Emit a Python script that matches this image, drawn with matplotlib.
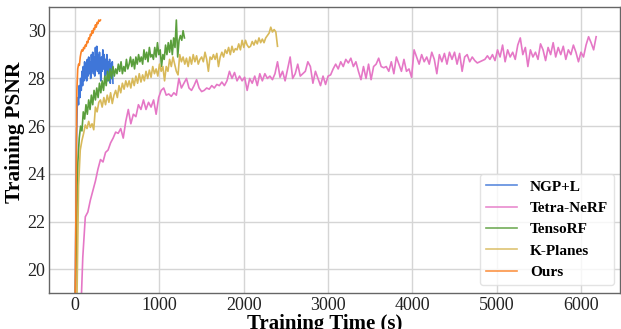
import numpy as np
import matplotlib
matplotlib.use("Agg")
import matplotlib.pyplot as plt

# ---------------- data ----------------
labels = ["NGP+L", "Tetra-NeRF", "TensoRF", "K-Planes", "Ours"]
colors = ["#3f76d8", "#e577c6", "#5a9e3c", "#d8b95a", "#fb8226"]

ours_start, ours_step = 0, 10
ours_psnr = [18.8, 23.0, 27.5, 28.4, 28.6, 28.55, 28.9, 29.1, 29.2, 29.15,
             29.3, 29.25, 29.4, 29.35, 29.55, 29.5, 29.7, 29.65, 29.85, 29.8,
             30.0, 29.9, 30.1, 30.05, 30.25, 30.15, 30.35, 30.3, 30.45, 30.4, 30.45]

ngp_start, ngp_step = 0, 8
ngp_psnr = [18.5, 22.0, 25.5, 26.8, 27.2, 26.9, 27.7, 27.2, 28.0, 27.5,
            28.3, 27.7, 28.5, 27.9, 28.7, 28.0, 28.6, 27.9, 28.8, 28.1,
            28.9, 28.2, 28.7, 28.0, 29.0, 28.3, 29.1, 28.2, 28.9, 28.1,
            29.3, 28.4, 29.35, 28.3, 29.0, 28.2, 29.1, 28.5, 27.9, 28.9,
            28.3, 29.2, 28.4, 29.0, 28.1, 28.8, 28.2, 29.0, 27.9, 28.7,
            28.2, 28.8, 27.8, 28.6, 28.0, 28.7, 27.8]

tenso_start, tenso_step = 0, 16
tenso_psnr = [18.5, 21.5, 24.5, 25.5, 26.0, 25.8, 26.6, 26.3, 26.9, 26.5,
              27.1, 26.7, 27.3, 26.9, 27.5, 27.1, 27.6, 27.2, 27.8, 27.4,
              27.9, 27.5, 28.1, 27.7, 28.3, 27.9, 28.4, 28.0, 28.5, 28.1,
              28.4, 28.2, 28.6, 28.3, 28.7, 28.2, 28.5, 28.3, 28.8, 28.4,
              28.6, 28.9, 28.5, 28.8, 28.4, 28.9, 28.6, 29.0, 28.7, 28.9,
              28.6, 29.2, 28.8, 29.1, 28.7, 29.3, 28.9, 29.0, 28.8, 29.3,
              28.9, 29.5, 29.0, 29.2, 28.5, 29.0, 28.8, 29.4, 29.0, 29.5,
              29.1, 29.6, 29.0, 29.7, 29.3, 30.45, 28.9, 29.6, 29.8, 29.6,
              30.0, 29.7]

kp_start, kp_step = 20, 20
kp_psnr = [18.5, 23.5, 25.0, 25.4, 25.7, 26.05, 25.9, 26.2, 25.95, 26.1,
           25.85, 26.8, 26.6, 27.0, 27.1, 26.8, 27.2, 26.9, 27.3, 27.0,
           27.4, 26.95, 27.3, 27.5, 27.2, 27.7, 27.4, 27.8, 27.55, 27.9,
           27.65, 27.9, 27.6, 28.0, 27.7, 28.1, 27.8, 28.2, 27.85, 28.15,
           27.9, 28.3, 28.0, 28.35, 28.05, 28.5, 28.2, 28.4, 28.1, 28.6,
           28.3, 28.5, 27.9, 28.5, 28.3, 28.8, 28.5, 28.9, 28.6, 28.3,
           28.15, 29.0, 28.7, 28.9, 28.6, 28.85, 28.5, 28.9, 28.6, 29.0,
           28.7, 28.95, 28.6, 28.8, 28.9, 28.7, 29.1, 28.8, 28.3, 28.9,
           28.8, 29.0, 28.8, 29.05, 28.5, 28.9, 29.1, 28.9, 29.2, 29.05,
           29.3, 29.0, 29.35, 29.1, 29.25, 29.2, 29.45, 29.2, 29.6, 29.3,
           29.6, 29.4, 29.3, 29.35, 29.55, 29.4, 29.6, 29.45, 29.7, 29.5,
           29.65, 29.5, 29.7, 29.8, 29.9, 30.15, 29.95, 30.05, 29.95, 29.35]

tetra_start, tetra_step = 60, 30
tetra_psnr = [17.5, 20.5, 22.2, 22.4, 22.9, 23.3, 23.7, 24.2, 24.6, 24.5,
              24.9, 25.0, 25.3, 25.5, 25.75, 25.7, 25.9, 25.5, 26.2, 26.7,
              26.1, 26.5, 26.4, 26.9, 26.7, 27.1, 26.7, 27.0, 26.8, 27.1,
              26.5, 27.2, 27.5, 27.6, 27.3, 27.35, 27.25, 27.4, 27.3, 28.0,
              27.6, 27.8, 28.0, 27.6, 27.5, 27.7, 27.95, 27.6, 27.45, 27.5,
              27.6, 27.55, 27.7, 27.6, 27.75, 27.7, 27.85, 27.7, 27.9, 28.3,
              28.0, 28.25, 27.9, 28.1, 27.9, 28.05, 27.5, 28.0, 27.8, 28.1,
              27.7, 28.2, 27.9, 28.2, 28.0, 28.1, 27.95, 28.2, 28.7, 28.05,
              28.3, 27.9, 28.4, 28.9, 28.0, 28.2, 28.6, 28.1, 28.2, 28.3,
              28.7, 28.5, 27.8, 28.3, 28.0, 27.7, 28.1, 27.75, 28.1, 28.15,
              28.4, 28.6, 28.4, 28.7, 28.5, 28.8, 28.65, 28.85, 28.5, 28.7,
              28.3, 27.95, 28.5, 28.0, 28.6, 27.95, 28.5, 28.6, 28.85, 28.5,
              28.45, 28.5, 28.3, 28.7, 28.2, 28.9, 28.6, 28.3, 28.8, 28.3,
              28.4, 28.05, 29.2, 28.9, 28.6, 29.0, 28.7, 28.9, 28.6, 29.1,
              28.8, 28.2, 29.0, 28.7, 29.05, 28.6, 29.1, 28.8, 29.1, 28.6,
              29.05, 28.3, 28.9, 29.0, 28.7, 28.9, 28.75, 28.65, 28.7, 28.75,
              28.8, 28.95, 28.8, 29.0, 28.75, 29.2, 28.9, 29.4, 28.7, 29.2,
              28.9, 29.1, 28.8, 29.4, 29.7, 29.0, 29.3, 28.5, 29.2, 28.9,
              29.1, 28.8, 29.45, 29.2, 28.75, 29.3, 29.0, 29.5, 28.9, 29.3,
              29.0, 29.35, 28.8, 29.2, 29.0, 29.4, 29.1, 28.7, 29.1, 28.9,
              29.4, 29.75, 29.5, 29.2, 29.75]

series = [
    (ngp_start, ngp_step, ngp_psnr),
    (tetra_start, tetra_step, tetra_psnr),
    (tenso_start, tenso_step, tenso_psnr),
    (kp_start, kp_step, kp_psnr),
    (ours_start, ours_step, ours_psnr),
]

x_ticks = [0, 1000, 2000, 3000, 4000, 5000, 6000]
y_ticks = [20, 22, 24, 26, 28, 30]

# ---------------- plot ----------------
plt.rcParams['font.family'] = ['Liberation Serif', 'DejaVu Serif']
fig = plt.figure(figsize=(6.21, 3.29), dpi=100)
ax = fig.add_axes([0.079, 0.109, 0.919, 0.870])

for (start, step, vals), lab, col in zip(series, labels, colors):
    t = start + step * np.arange(len(vals))
    ax.plot(t, vals, color=col, lw=1.2, label=lab)

ax.set_xlim(-310, 6460)
ax.set_ylim(19, 31)
ax.set_xticks(x_ticks)
ax.set_yticks(y_ticks)
ax.grid(True, color="#d5d5d5", lw=1.0)
ax.set_axisbelow(True)
ax.tick_params(length=0, labelsize=13, pad=2.5, colors="#222222")
for s in ax.spines.values():
    s.set_color("#666666")
    s.set_linewidth(1.0)

ax.set_xlabel("Training Time (s)", fontsize=15, fontweight="bold")
ax.set_ylabel("Training PSNR", fontsize=15.5, fontweight="bold")
ax.xaxis.set_label_coords(0.483, -0.072)
ax.yaxis.set_label_coords(-0.042, 0.563)

leg = ax.legend(loc="lower right", prop={'weight': 'bold', 'size': 11},
                handlelength=2.0, labelspacing=0.5, borderpad=0.4,
                handletextpad=0.85, framealpha=0.8, edgecolor="#dddddd",
                fancybox=True, bbox_to_anchor=(0.998, 0.012),
                borderaxespad=0.3)
for h in leg.get_lines():
    h.set_alpha(0.85)

fig.savefig("out.png", dpi=100)
